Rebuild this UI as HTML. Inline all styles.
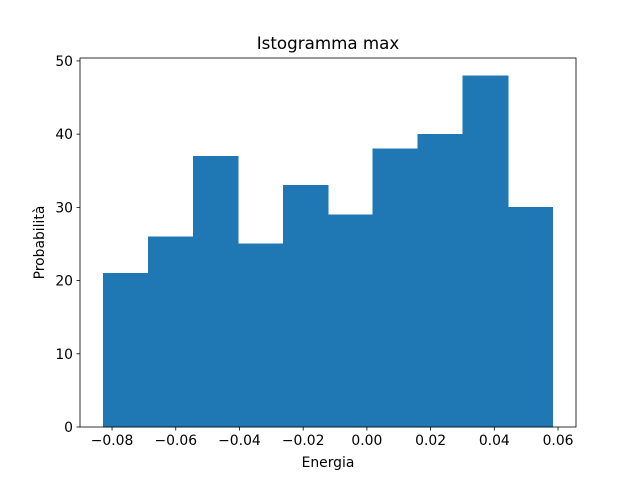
<!DOCTYPE html>
<html><head><meta charset="utf-8"><style>body{margin:0;background:#fff}svg{display:block}text{font-family:"DejaVu Sans","Liberation Sans",sans-serif}</style></head>
<body>
<svg id="c" width="640" height="480"></svg>
<script>
const binStart = -0.0828;
const binWidth = 0.01412;
const counts = [21,26,37,25,33,29,38,40,48,30];
const xTicks = [-0.08,-0.06,-0.04,-0.02,0.00,0.02,0.04,0.06];
const xTickLabels = ["\u22120.08","\u22120.06","\u22120.04","\u22120.02","0.00","0.02","0.04","0.06"];
const yTicks = [0,10,20,30,40,50];

const L=80,R=576,T=58,B=427;
const xmin=-0.09006,xmax=0.06564,ymax=50.4;
const sx=v=>L+(v-xmin)/(xmax-xmin)*(R-L);
const sy=v=>B-v/ymax*(B-T);
const svg=document.getElementById('c');
const NS='http://www.w3.org/2000/svg';
function mk(tag,attrs,parent){const e=document.createElementNS(NS,tag);for(const k in attrs)e.setAttribute(k,attrs[k]);(parent||svg).appendChild(e);return e;}

const bars=mk('g',{'shape-rendering':'crispEdges'});


counts.forEach((c,i)=>{
  const x0=sx(binStart+i*binWidth),x1=sx(binStart+(i+1)*binWidth);
  const r=mk('rect',{x:x0,y:sy(c),width:x1-x0,height:sy(0)-sy(c),fill:'#1f77b4',stroke:'#1f77b4','stroke-width':0.6},bars);
  
  
});
const frame=mk('rect',{x:L,y:T,width:R-L,height:B-T,fill:'none',stroke:'#000','stroke-width':0.8});



xTicks.forEach((t,i)=>{
  const x=sx(t);
  mk('line',{x1:x,x2:x,y1:B,y2:B+3.5,stroke:'#000','stroke-width':0.8});
  const tx=mk('text',{x:x,y:B+18,'text-anchor':'middle','font-size':13.9});
  tx.textContent=xTickLabels[i];
  
  
});
yTicks.forEach(t=>{
  const y=sy(t);
  mk('line',{x1:L-3.5,x2:L,y1:y,y2:y,stroke:'#000','stroke-width':0.8});
  const tx=mk('text',{x:L-7,y:y+5,'text-anchor':'end','font-size':13.9});
  tx.textContent=t;
  
  
});
const title=mk('text',{x:(L+R)/2,y:49,'text-anchor':'middle','font-size':16.7});
title.textContent='Istogramma max';


const xl=mk('text',{x:(L+R)/2,y:467,'text-anchor':'middle','font-size':13.9});
xl.textContent='Energia';


const yl=mk('text',{x:44,y:(T+B)/2,'text-anchor':'middle','font-size':13.9,transform:'rotate(-90 44 '+((T+B)/2)+')'});
yl.textContent='Probabilità';


</script>
</body></html>
